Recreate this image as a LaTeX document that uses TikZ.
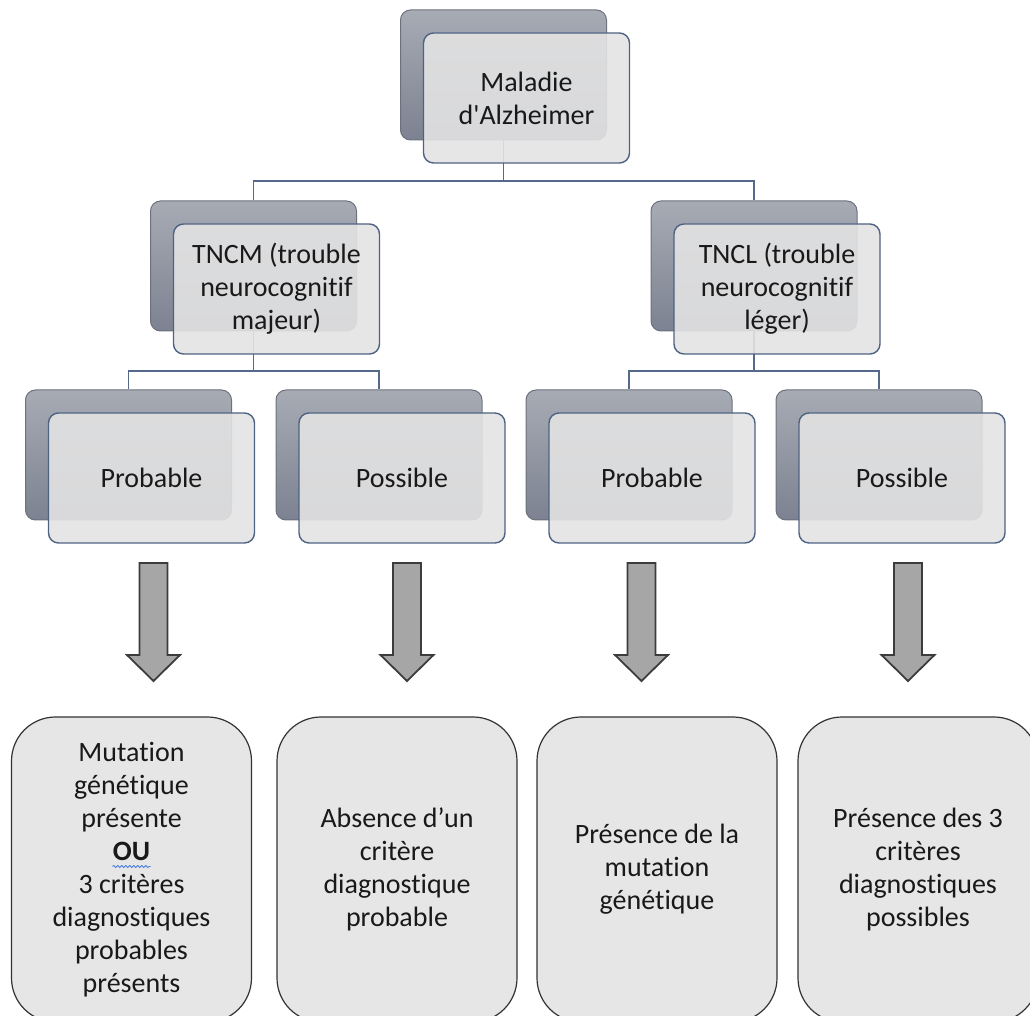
\documentclass[tikz,border=0pt]{standalone}
\usepackage{fontspec}
\setmainfont{Carlito}
\newfontfamily\boxfont{Carlito}[Ligatures=NoCommon]
\usetikzlibrary{positioning,backgrounds,decorations.pathmorphing}
\definecolor{backtop}{HTML}{A7ABB4}
\definecolor{backbot}{HTML}{7C8291}
\definecolor{backline}{HTML}{6C717D}
\definecolor{frontfill}{HTML}{E3E3E3}
\definecolor{frontline}{HTML}{4E6283}
\definecolor{linkcol}{HTML}{55698A}
\definecolor{arrowfill}{HTML}{A6A6A6}
\definecolor{arrowline}{HTML}{3C3C3C}
\definecolor{resfill}{HTML}{E6E6E6}
\definecolor{wavecol}{HTML}{4A7BE0}

\begin{document}
\begin{tikzpicture}[x=0.5pt, y=-0.5pt,
  backbox/.style={draw=backline, line width=0.5pt, rounded corners=5pt, top color=backtop, bottom color=backbot, minimum width=103pt, minimum height=65pt},
  frontbox/.style={draw=frontline, line width=0.7pt, rounded corners=5pt, fill=frontfill, fill opacity=0.9, text opacity=1, minimum width=103pt, minimum height=65pt, align=center, font=\boxfont\fontsize{14}{16.5}\selectfont, text=black!90},
  resbox/.style={draw=black!80, line width=0.6pt, rounded corners=22pt, fill=resfill, minimum width=120pt, minimum height=152.5pt, align=center, font=\boxfont\fontsize{14}{16.5}\selectfont, text=black!90},
  link/.style={draw=linkcol, line width=0.75pt},
  bigarrow/.style={draw=arrowline, fill=arrowfill, line width=0.9pt},
  squiggle/.style={draw=wavecol, line width=0.4pt, decorate, decoration={snake, amplitude=0.5pt, segment length=2pt}}]
\useasboundingbox (0,0) rectangle (1030,1016);
\clip (0,0) rectangle (1030,1016);

% boxes of the tree, a shadow behind each one
\foreach \n/\x/\y/\txt in {alz/503.5/75/{Maladie\\d'Alzheimer},
    tncm/253.5/266/{TNCM (trouble\\neurocognitif\\majeur)},
    tncl/754/266/{TNCL (trouble\\neurocognitif\\léger)},
    mprob/128.5/455/{Probable}, mposs/379/455/{Possible},
    lprob/629/455/{Probable}, lposs/879/455/{Possible}}{
  \node[backbox] (\n) at (\x,\y) {};
  \node[frontbox] (\n f) at ([shift={(23,23)}]\n) {\txt};
}

\begin{scope}[on background layer]
\coordinate (bar1) at (0,181);
\coordinate (bar2) at (0,371);
\draw[link] (alz.south) -- (alz.south |- bar1) -| (tncm.north);
\draw[link] (alz.south |- bar1) -| (tncl.north);
\draw[link] (tncm.south) -- (tncm.south |- bar2) -| (mprob.north);
\draw[link] (tncm.south |- bar2) -| (mposs.north);
\draw[link] (tncl.south) -- (tncl.south |- bar2) -| (lprob.north);
\draw[link] (tncl.south |- bar2) -| (lposs.north);
\end{scope}

% block arrows
\foreach \x in {153.5,407,641.5,908}
  \draw[bigarrow] (\x-14,563) -- (\x+14,563) -- (\x+14,655) -- (\x+26.5,655) -- (\x,681) -- (\x-26.5,655) -- (\x-14,655) -- cycle;

% results
\foreach \n/\x/\txt in {res1/131.5/{Mutation\\génétique\\présente\\\textbf{OU}\\3 critères\\diagnostiques\\probables\\présents},
    res2/397/{Absence d’un\\critère\\diagnostique\\probable},
    res3/657/{Présence de la\\mutation\\génétique},
    res4/918/{Présence des 3\\critères\\diagnostiques\\possibles}}
  \node[resbox] (\n) at (\x,869.5) {\txt};
\draw[squiggle] ([shift={(-19,-3)}]res1.center) -- ([shift={(19,-3)}]res1.center);

\end{tikzpicture}
\end{document}
